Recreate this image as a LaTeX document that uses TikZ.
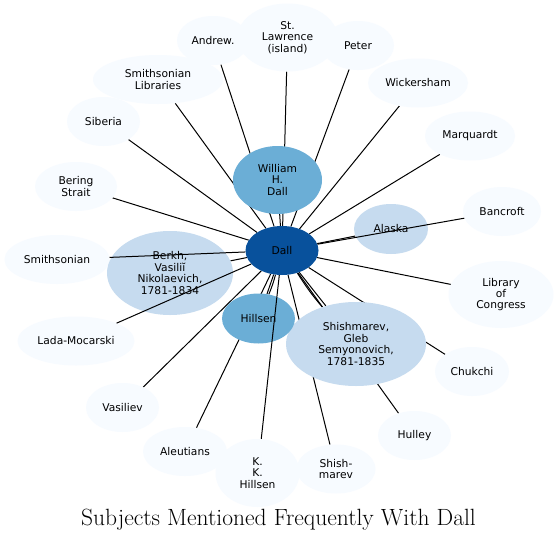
\documentclass[tikz,border=0pt]{standalone}
\usepackage{fontspec}
\newfontfamily\nodefont{DejaVu Sans}
\usetikzlibrary{shapes.geometric}
\pgfdeclarelayer{bg}
\pgfdeclarelayer{low}
\pgfdeclarelayer{top}
\pgfsetlayers{bg,low,main,top}
\definecolor{cdark}{HTML}{08519C}
\definecolor{cmid}{HTML}{6BAED6}
\definecolor{cpale}{HTML}{C6DBEF}
\definecolor{clight}{HTML}{F7FBFF}
\begin{document}
\begin{tikzpicture}[x=1pt,y=-1pt,
  ent/.style={ellipse, draw=none, inner sep=0pt, align=center,
    font=\nodefont\fontsize{10.7}{11.4}\selectfont, text=black,
    minimum width=72pt, minimum height=49pt},
  leaf/.style={ent, fill=clight},
  pale/.style={ent, fill=cpale},
  mid/.style={ent, fill=cmid},
  hub/.style={ent, fill=cdark},
  ed/.style={draw=black, line width=1pt}]
\useasboundingbox (0,0) rectangle (558,542);
\begin{pgfonlayer}{bg}
\fill[white] (0,0) rectangle (558,542);
\end{pgfonlayer}

% nodes
\node[leaf] (andrew) at (213,40.5) {Andrew.};
\node[leaf, minimum width=100pt, minimum height=68pt] (stl) at (287.5,37.5) {St.\\Lawrence\\(island)};
\node[leaf] (peter) at (358,45.5) {Peter};
\node[leaf, minimum width=130pt] (smlib) at (158,79.5) {Smithsonian\\Libraries};
\node[leaf, minimum width=100pt] (wick) at (418,83) {Wickersham};
\node[leaf, minimum width=73pt] (siberia) at (103.5,121.5) {Siberia};
\node[leaf, minimum width=90pt] (marq) at (470,136) {Marquardt};
\node[leaf, minimum width=82pt] (bering) at (76,186.5) {Bering\\Strait};
\node[leaf, minimum width=78pt] (bancroft) at (502,211.5) {Bancroft};
\node[leaf, minimum width=105pt] (smith) at (57,259.5) {Smithsonian};
\node[leaf, minimum width=105pt, minimum height=67pt] (loc) at (501,294.5) {Library\\of\\Congress};
\node[leaf, minimum width=117pt] (lada) at (76,341) {Lada-Mocarski};
\node[leaf, minimum width=74pt] (chukchi) at (472,371.5) {Chukchi};
\node[leaf, minimum width=73pt] (vasiliev) at (122.5,407.5) {Vasiliev};
\node[leaf, minimum width=84pt] (aleut) at (185,451.5) {Aleutians};
\node[leaf, minimum width=73pt] (hulley) at (414.5,435.5) {Hulley};
\node[leaf, minimum width=84pt, minimum height=68pt] (kkh) at (257.5,473) {K.\\K.\\Hillsen};
\node[leaf, minimum width=79pt] (shm) at (336,469) {Shish-\\marev};

\node[pale, minimum width=126pt, minimum height=84pt] (berkh) at (170,273) {Berkh,\\Vasiliĭ\\Nikolaevich,\\1781-1834};
\node[pale, minimum width=74pt, minimum height=50pt] (alaska) at (391,229) {Alaska};
\node[pale, minimum width=140pt, minimum height=84pt] (gleb) at (356,344) {Shishmarev,\\Gleb\\Semyonovich,\\1781-1835};
\node[mid, minimum width=89pt, minimum height=68pt] (william) at (277.5,180) {William\\H.\\Dall};
\node[mid, minimum width=73pt, minimum height=50pt] (hillsen) at (258.5,318.5) {Hillsen};
\node[hub, minimum width=73pt, minimum height=49pt] (dall) at (282,250.5) {Dall};

\node[font=\fontsize{23.5}{27}\selectfont, inner sep=0pt] (title) at (278.5,520) {Subjects Mentioned Frequently With Dall};

% edges below the nodes
\begin{pgfonlayer}{low}
\draw[ed] (dall) -- (andrew);
\draw[ed] (dall) -- (stl);
\draw[ed] (dall) -- (peter);
\draw[ed] (dall) -- (smlib);
\draw[ed] (dall) -- (wick);
\draw[ed] (dall) -- (siberia);
\draw[ed] (dall) -- (marq);
\draw[ed] (dall) -- (bering);
\draw[ed] (dall) -- (loc);
\draw[ed] (dall) -- (chukchi);
\draw[ed] (dall) -- (vasiliev);
\draw[ed] (dall) -- (aleut);
\draw[ed] (dall) -- (hulley);
\draw[ed] (dall) -- (shm);
\draw[ed] (dall) -- (william);
\draw[ed] (dall) -- (berkh);
\draw[ed] (dall) -- (alaska);
\draw[ed] (dall) -- (hillsen);
\draw[ed] (dall) to[bend left=4] (hillsen);
\draw[ed] (dall) -- (gleb);
\draw[ed] (dall) to[bend right=4] (gleb);
\end{pgfonlayer}

% edges drawn over the nodes
\begin{pgfonlayer}{top}
\draw[ed] (dall) -- (smith);
\draw[ed] (dall) -- (lada);
\draw[ed] (dall) -- (bancroft);
\draw[ed] (dall) -- (kkh);
\end{pgfonlayer}
\end{tikzpicture}
\end{document}
